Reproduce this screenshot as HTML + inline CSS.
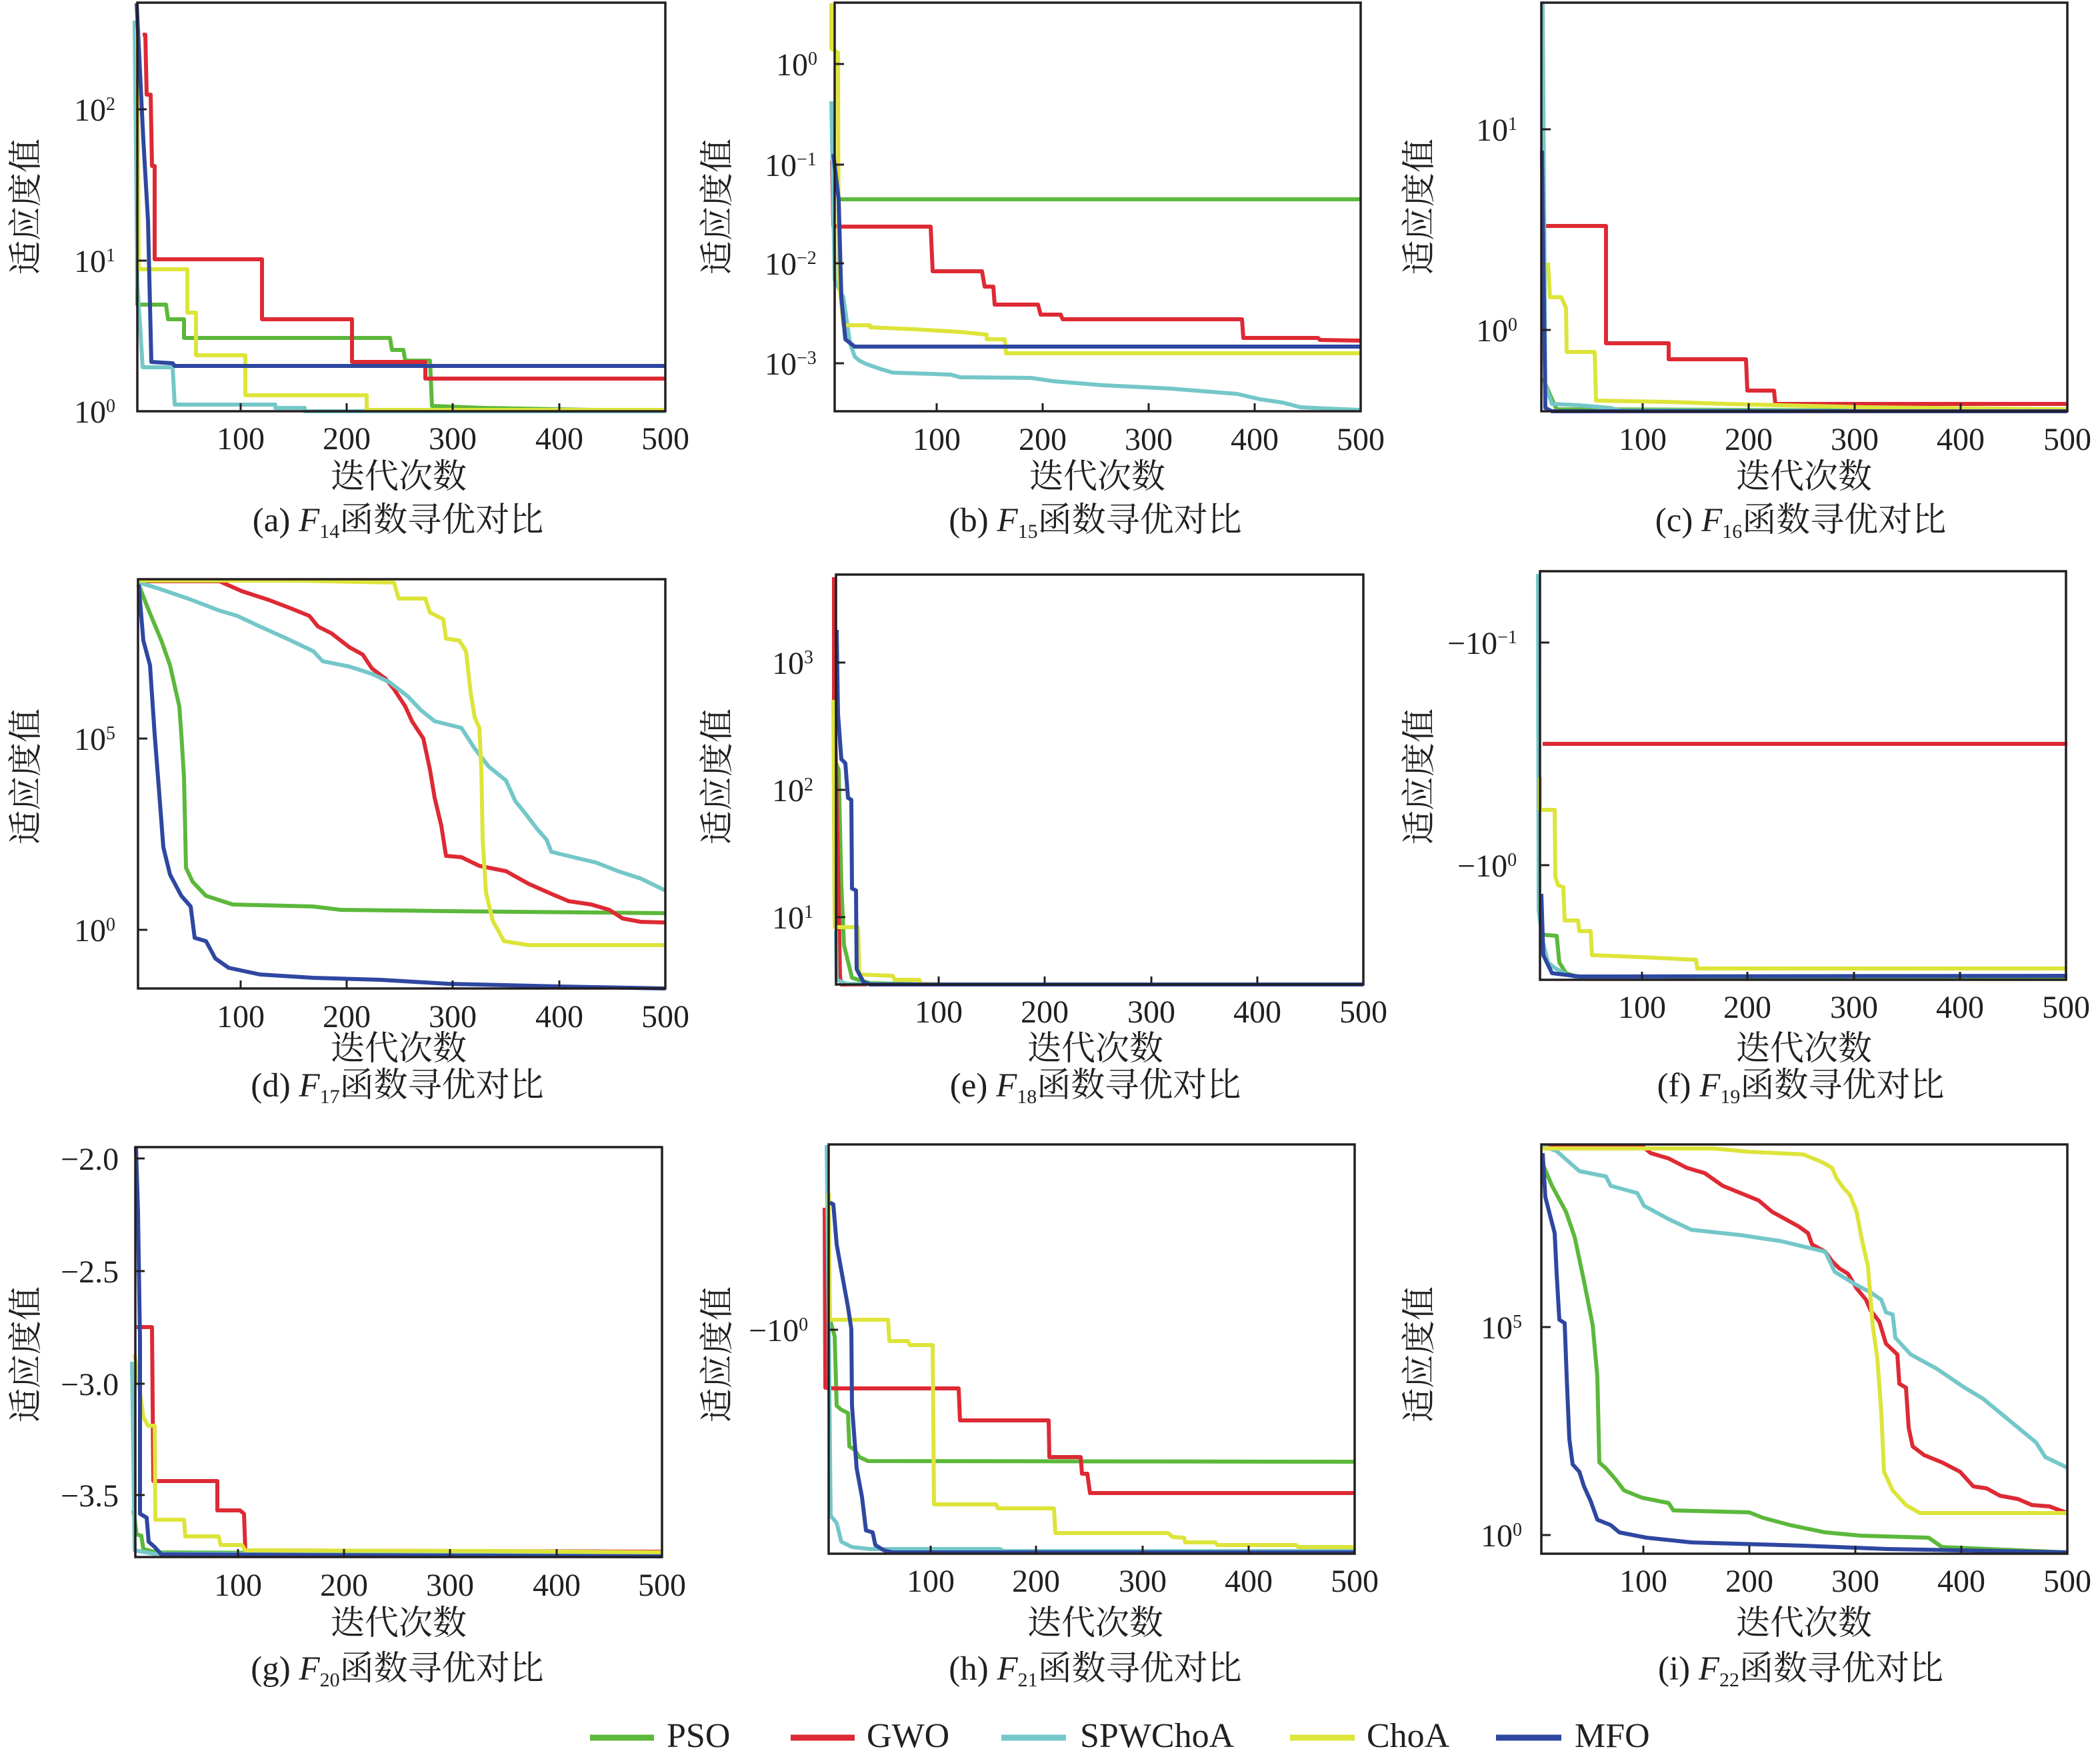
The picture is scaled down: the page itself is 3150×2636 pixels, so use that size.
<!DOCTYPE html>
<html><head><meta charset="utf-8"><style>
html,body{margin:0;padding:0;background:#fff}
svg{display:block}
.t{font-family:"Liberation Serif","Noto Serif CJK SC",serif;fill:#231f20}
.tk{font-size:48px}
.lab{font-size:51px}
.s{fill:none;stroke-width:6;stroke-linejoin:round;stroke-linecap:butt}
.g{stroke:#5cb83b}.r{stroke:#dd2a34}.c{stroke:#74c7c9}.y{stroke:#dde43a}.b{stroke:#2e47a0}
.box{fill:none;stroke:#231f20;stroke-width:3.5}
.tm{stroke:#231f20;stroke-width:3}
</style></head><body>
<svg width="3150" height="2636" viewBox="0 0 3150 2636" xmlns="http://www.w3.org/2000/svg">
<rect width="3150" height="2636" fill="#fff"/>

<!-- ============ (a) ============ -->
<g>
<path class="s g" d="M204,73 L206,457 L249,457 L252,479 L276,479 L276,507 L585,507 L588,525 L605,525 L608,541 L645,541 L648,609 L726,612 L998,617"/>
<path class="s r" d="M214,52 L218,52 L220,142 L226,142 L228,249 L232,249 L232,389 L393,389 L393,479 L528,479 L528,543 L638,543 L638,568 L998,568"/>
<path class="s c" d="M202,31 L206,425 L214,551 L259,551 L262,607 L413,607 L413,612 L457,612 L457,617 L998,617"/>
<path class="s y" d="M206,40 L208,404 L281,404 L281,469 L294,469 L294,533 L368,533 L368,593 L550,593 L550,615 L998,615"/>
<path class="s b" d="M205,5 L215,210 L222,331 L227,543 L259,545 L262,549 L998,549"/>
<rect class="box" x="206" y="4" width="792" height="613"/>
<path class="tm" d="M361,617v-12M520,617v-12M679,617v-12M839,617v-12M206,164h14M206,391h14"/>
<g class="t tk" text-anchor="middle"><text x="361" y="674">100</text><text x="520" y="674">200</text><text x="679" y="674">300</text><text x="839" y="674">400</text><text x="998" y="674">500</text></g>
<g class="t tk"><text x="111" y="181">10<tspan dy="-16" font-size="28">2</tspan></text><text x="111" y="408">10<tspan dy="-16" font-size="28">1</tspan></text><text x="111" y="634">10<tspan dy="-16" font-size="28">0</tspan></text></g>
<text class="t lab" x="598" y="732" text-anchor="middle">迭代次数</text>
<text class="t lab" text-anchor="middle" dominant-baseline="central" transform="translate(40,310) rotate(-90)">适应度值</text>
<text class="t lab" x="597" y="797" text-anchor="middle">(a) <tspan font-style="italic">F</tspan><tspan font-size="30" dy="10">14</tspan><tspan dy="-10">函数寻优对比</tspan></text>
</g>

<!-- ============ (b) ============ -->
<g>
<path class="s g" d="M1254,250 L1258,299 L2041,299"/>
<path class="s r" d="M1248,241 L1250,339 L1258,340 L1396,340 L1399,407 L1473,407 L1477,430 L1490,430 L1492,457 L1557,457 L1561,472 L1591,472 L1594,479 L1863,479 L1865,507 L1977,507 L1980,510 L2041,511"/>
<path class="s c" d="M1247,152 L1252,420 L1265,446 L1275,515 L1282,535 L1289,541 L1299,546 L1322,554 L1339,559 L1426,562 L1440,566 L1547,567 L1581,572 L1655,578 L1756,583 L1856,591 L1890,599 L1924,604 L1951,611 L1991,613 L2041,615"/>
<path class="s y" d="M1247,5 L1247,73 L1257,79 L1258,415 L1265,488 L1305,488 L1305,491 L1373,494 L1440,498 L1480,502 L1480,509 L1507,509 L1509,530 L2041,530"/>
<path class="s b" d="M1250,231 L1258,299 L1262,446 L1268,509 L1282,520 L2041,520"/>
<rect class="box" x="1252" y="4" width="789" height="613"/>
<path class="tm" d="M1405,617v-12M1564,617v-12M1723,617v-12M1882,617v-12M1252,96h14M1252,247h14M1252,395h14M1252,545h14"/>
<g class="t tk" text-anchor="middle"><text x="1405" y="675">100</text><text x="1564" y="675">200</text><text x="1723" y="675">300</text><text x="1882" y="675">400</text><text x="2041" y="675">500</text></g>
<g class="t tk"><text x="1164" y="113">10<tspan dy="-16" font-size="28">0</tspan></text><text x="1147" y="264">10<tspan dy="-16" font-size="28">−1</tspan></text><text x="1147" y="412">10<tspan dy="-16" font-size="28">−2</tspan></text><text x="1147" y="562">10<tspan dy="-16" font-size="28">−3</tspan></text></g>
<text class="t lab" x="1646" y="732" text-anchor="middle">迭代次数</text>
<text class="t lab" text-anchor="middle" dominant-baseline="central" transform="translate(1077,310) rotate(-90)">适应度值</text>
<text class="t lab" x="1643" y="797" text-anchor="middle">(b) <tspan font-style="italic">F</tspan><tspan font-size="30" dy="10">15</tspan><tspan dy="-10">函数寻优对比</tspan></text>
</g>

<!-- ============ (c) ============ -->
<g>
<path class="s g" d="M2314,567 L2328,599 L2335,614 L3101,617"/>
<path class="s r" d="M2315,336 L2315,339 L2409,339 L2409,515 L2503,515 L2503,539 L2619,539 L2621,586 L2661,586 L2663,606 L3101,606"/>
<path class="s c" d="M2314,3 L2318,578 L2328,606 L2369,608 L2416,612 L2430,616 L3101,617"/>
<path class="s y" d="M2322,394 L2325,446 L2342,446 L2349,462 L2350,528 L2392,528 L2394,601 L2503,603 L2591,606 L2799,611 L3101,614"/>
<path class="s b" d="M2313,226 L2318,612 L2328,617 L3101,617"/>
<rect class="box" x="2312" y="4" width="789" height="613"/>
<path class="tm" d="M2464,617v-12M2623,617v-12M2782,617v-12M2941,617v-12M2312,194h14M2312,495h14"/>
<g class="t tk" text-anchor="middle"><text x="2464" y="675">100</text><text x="2623" y="675">200</text><text x="2782" y="675">300</text><text x="2941" y="675">400</text><text x="3101" y="675">500</text></g>
<g class="t tk"><text x="2214" y="211">10<tspan dy="-16" font-size="28">1</tspan></text><text x="2214" y="512">10<tspan dy="-16" font-size="28">0</tspan></text></g>
<text class="t lab" x="2706" y="732" text-anchor="middle">迭代次数</text>
<text class="t lab" text-anchor="middle" dominant-baseline="central" transform="translate(2130,310) rotate(-90)">适应度值</text>
<text class="t lab" x="2701" y="797" text-anchor="middle">(c) <tspan font-style="italic">F</tspan><tspan font-size="30" dy="10">16</tspan><tspan dy="-10">函数寻优对比</tspan></text>
</g>

<!-- ============ (d) ============ -->
<g>
<path class="s g" d="M208,877 L222,913 L242,961 L255,998 L269,1060 L272,1102 L276,1166 L279,1302 L289,1323 L309,1344 L349,1357 L470,1360 L511,1365 L672,1367 L998,1370"/>
<path class="s r" d="M207,872 L329,872 L363,887 L403,900 L437,913 L464,924 L477,940 L497,950 L524,971 L544,982 L558,1003 L578,1018 L591,1034 L608,1060 L618,1082 L635,1108 L645,1155 L652,1197 L662,1239 L669,1284 L692,1286 L719,1299 L759,1307 L793,1326 L827,1341 L853,1352 L887,1357 L914,1365 L934,1378 L961,1383 L998,1384"/>
<path class="s c" d="M208,874 L235,882 L282,898 L329,916 L356,924 L390,940 L430,958 L470,977 L484,992 L524,1000 L558,1011 L585,1024 L612,1045 L632,1066 L652,1082 L692,1092 L712,1123 L733,1150 L759,1171 L773,1202 L786,1218 L806,1244 L820,1260 L827,1278 L860,1286 L894,1294 L927,1307 L961,1318 L998,1336"/>
<path class="s y" d="M207,871 L437,871 L591,874 L598,898 L638,898 L645,919 L665,929 L669,958 L689,961 L699,977 L706,1039 L712,1076 L719,1092 L722,1155 L724,1260 L729,1339 L739,1381 L756,1412 L793,1418 L998,1418"/>
<path class="s b" d="M208,877 L215,961 L225,998 L232,1102 L239,1192 L245,1271 L255,1312 L272,1344 L286,1360 L292,1407 L309,1412 L323,1438 L343,1452 L390,1462 L470,1467 L571,1470 L672,1476 L840,1480 L998,1483"/>
<rect class="box" x="207" y="869" width="791" height="614"/>
<path class="tm" d="M361,1483v-12M520,1483v-12M679,1483v-12M839,1483v-12M207,1108h14M207,1395h14"/>
<g class="t tk" text-anchor="middle"><text x="361" y="1541">100</text><text x="520" y="1541">200</text><text x="679" y="1541">300</text><text x="839" y="1541">400</text><text x="998" y="1541">500</text></g>
<g class="t tk"><text x="111" y="1125">10<tspan dy="-16" font-size="28">5</tspan></text><text x="111" y="1412">10<tspan dy="-16" font-size="28">0</tspan></text></g>
<text class="t lab" x="598" y="1590" text-anchor="middle">迭代次数</text>
<text class="t lab" text-anchor="middle" dominant-baseline="central" transform="translate(40,1165) rotate(-90)">适应度值</text>
<text class="t lab" x="596" y="1645" text-anchor="middle">(d) <tspan font-style="italic">F</tspan><tspan font-size="30" dy="10">17</tspan><tspan dy="-10">函数寻优对比</tspan></text>
</g>

<!-- ============ (e) ============ -->
<g>
<path class="s g" d="M1254,1145 L1258,1155 L1262,1328 L1266,1418 L1278,1467 L1305,1475 L1400,1477"/>
<path class="s r" d="M1251,866 L1251,1050 L1253,1100 L1258,1355 L1260,1465 L1262,1477 L1300,1477"/>
<path class="s c" d="M1254,1396 L1255,1470 L1270,1476 L1400,1477"/>
<path class="s y" d="M1250,1050 L1252,1391 L1287,1391 L1289,1462 L1339,1464 L1342,1470 L1379,1470 L1381,1476 L1420,1477"/>
<path class="s b" d="M1255,945 L1257,1071 L1262,1139 L1268,1145 L1272,1197 L1277,1200 L1278,1333 L1284,1336 L1285,1454 L1295,1473 L1305,1477 L2045,1477"/>
<rect class="box" x="1254" y="862" width="791" height="615"/>
<path class="tm" d="M1408,1477v-12M1567,1477v-12M1727,1477v-12M1886,1477v-12M1254,994h14M1254,1185h14M1254,1376h14"/>
<g class="t tk" text-anchor="middle"><text x="1408" y="1534">100</text><text x="1567" y="1534">200</text><text x="1727" y="1534">300</text><text x="1886" y="1534">400</text><text x="2045" y="1534">500</text></g>
<g class="t tk"><text x="1158" y="1011">10<tspan dy="-16" font-size="28">3</tspan></text><text x="1158" y="1202">10<tspan dy="-16" font-size="28">2</tspan></text><text x="1158" y="1393">10<tspan dy="-16" font-size="28">1</tspan></text></g>
<text class="t lab" x="1643" y="1590" text-anchor="middle">迭代次数</text>
<text class="t lab" text-anchor="middle" dominant-baseline="central" transform="translate(1077,1165) rotate(-90)">适应度值</text>
<text class="t lab" x="1643" y="1645" text-anchor="middle">(e) <tspan font-style="italic">F</tspan><tspan font-size="30" dy="10">18</tspan><tspan dy="-10">函数寻优对比</tspan></text>
</g>

<!-- ============ (f) ============ -->
<g>
<path class="s g" d="M2314,1402 L2322,1403 L2335,1404 L2339,1444 L2349,1460 L2370,1467 L3101,1467"/>
<path class="s r" d="M2314,1116 L3101,1116"/>
<path class="s c" d="M2307,861 L2308,1365 L2314,1412 L2322,1444 L2332,1452 L2349,1462 L2369,1467 L2500,1468"/>
<path class="s y" d="M2310,1166 L2310,1215 L2332,1215 L2333,1315 L2337,1328 L2345,1331 L2347,1381 L2367,1381 L2369,1397 L2386,1397 L2388,1433 L2463,1436 L2544,1440 L2546,1453 L3101,1453"/>
<path class="s b" d="M2312,1341 L2315,1433 L2328,1460 L2369,1465 L3101,1464"/>
<rect class="box" x="2310" y="857" width="789" height="613"/>
<path class="tm" d="M2463,1470v-12M2621,1470v-12M2781,1470v-12M2940,1470v-12M2310,964h14M2310,1298h14"/>
<g class="t tk" text-anchor="middle"><text x="2463" y="1527">100</text><text x="2621" y="1527">200</text><text x="2781" y="1527">300</text><text x="2940" y="1527">400</text><text x="3099" y="1527">500</text></g>
<g class="t tk"><text x="2171" y="981">−10<tspan dy="-16" font-size="28">−1</tspan></text><text x="2186" y="1315">−10<tspan dy="-16" font-size="28">0</tspan></text></g>
<text class="t lab" x="2706" y="1590" text-anchor="middle">迭代次数</text>
<text class="t lab" text-anchor="middle" dominant-baseline="central" transform="translate(2130,1165) rotate(-90)">适应度值</text>
<text class="t lab" x="2701" y="1645" text-anchor="middle">(f) <tspan font-style="italic">F</tspan><tspan font-size="30" dy="10">19</tspan><tspan dy="-10">函数寻优对比</tspan></text>
</g>

<!-- ============ (g) ============ -->
<g>
<path class="s g" d="M200,2266 L205,2302 L212,2304 L215,2324 L235,2329 L993,2332"/>
<path class="s r" d="M205,1991 L228,1991 L230,2222 L326,2222 L326,2266 L360,2266 L366,2271 L368,2326 L993,2328"/>
<path class="s c" d="M198,2043 L202,2326 L230,2331 L993,2331"/>
<path class="s y" d="M202,2032 L215,2126 L222,2139 L232,2139 L233,2280 L276,2280 L278,2305 L328,2305 L331,2318 L363,2318 L368,2326 L726,2327 L993,2329"/>
<path class="s b" d="M204,1721 L207,1818 L210,2010 L210,2271 L215,2274 L220,2277 L223,2313 L232,2321 L242,2332 L993,2335"/>
<rect class="box" x="203" y="1721" width="790" height="615"/>
<path class="tm" d="M357,2336v-12M516,2336v-12M675,2336v-12M835,2336v-12M203,1738h14M203,1907h14M203,2076h14M203,2243h14"/>
<g class="t tk" text-anchor="middle"><text x="357" y="2394">100</text><text x="516" y="2394">200</text><text x="675" y="2394">300</text><text x="835" y="2394">400</text><text x="993" y="2394">500</text></g>
<g class="t tk"><text x="91" y="1755">−2.0</text><text x="91" y="1924">−2.5</text><text x="91" y="2093">−3.0</text><text x="91" y="2260">−3.5</text></g>
<text class="t lab" x="598" y="2452" text-anchor="middle">迭代次数</text>
<text class="t lab" text-anchor="middle" dominant-baseline="central" transform="translate(40,2032) rotate(-90)">适应度值</text>
<text class="t lab" x="596" y="2520" text-anchor="middle">(g) <tspan font-style="italic">F</tspan><tspan font-size="30" dy="10">20</tspan><tspan dy="-10">函数寻优对比</tspan></text>
</g>

<!-- ============ (h) ============ -->
<g>
<path class="s g" d="M1245,1980 L1252,2005 L1255,2109 L1262,2115 L1272,2120 L1274,2170 L1282,2175 L1289,2186 L1302,2192 L2032,2193"/>
<path class="s r" d="M1237,1812 L1238,2082 L1252,2083 L1438,2083 L1440,2131 L1573,2131 L1574,2186 L1621,2186 L1623,2211 L1631,2211 L1635,2240 L2032,2240"/>
<path class="s c" d="M1240,1718 L1243,1982 L1246,2274 L1255,2285 L1262,2313 L1278,2321 L1305,2324 L1500,2324 L1505,2327 L2032,2327"/>
<path class="s y" d="M1243,1790 L1245,1980 L1332,1980 L1334,2012 L1362,2012 L1365,2018 L1399,2018 L1401,2257 L1494,2257 L1497,2263 L1581,2263 L1583,2300 L1752,2300 L1759,2306 L1776,2307 L1778,2314 L1823,2314 L1826,2318 L1944,2318 L1947,2321 L2032,2321"/>
<path class="s b" d="M1245,1804 L1250,1807 L1255,1867 L1264,1917 L1272,1961 L1277,1994 L1278,2109 L1285,2203 L1293,2246 L1299,2296 L1309,2299 L1313,2318 L1326,2326 L1339,2329 L2032,2329"/>
<rect class="box" x="1243" y="1717" width="789" height="614"/>
<path class="tm" d="M1396,2331v-12M1554,2331v-12M1714,2331v-12M1873,2331v-12M1243,1995h14"/>
<g class="t tk" text-anchor="middle"><text x="1396" y="2388">100</text><text x="1554" y="2388">200</text><text x="1714" y="2388">300</text><text x="1873" y="2388">400</text><text x="2032" y="2388">500</text></g>
<g class="t tk"><text x="1123" y="2012">−10<tspan dy="-16" font-size="28">0</tspan></text></g>
<text class="t lab" x="1643" y="2452" text-anchor="middle">迭代次数</text>
<text class="t lab" text-anchor="middle" dominant-baseline="central" transform="translate(1077,2032) rotate(-90)">适应度值</text>
<text class="t lab" x="1643" y="2520" text-anchor="middle">(h) <tspan font-style="italic">F</tspan><tspan font-size="30" dy="10">21</tspan><tspan dy="-10">函数寻优对比</tspan></text>
</g>

<!-- ============ (i) ============ -->
<g>
<path class="s g" d="M2314,1746 L2328,1779 L2349,1818 L2362,1856 L2376,1922 L2389,1988 L2396,2065 L2399,2194 L2409,2203 L2423,2219 L2436,2236 L2463,2247 L2503,2255 L2510,2266 L2624,2269 L2644,2277 L2685,2288 L2738,2299 L2792,2304 L2893,2307 L2913,2321 L3007,2325 L3101,2329"/>
<path class="s r" d="M2314,1719 L2463,1719 L2476,1730 L2503,1738 L2530,1752 L2557,1760 L2584,1779 L2611,1790 L2638,1801 L2658,1818 L2678,1829 L2698,1840 L2712,1850 L2718,1867 L2738,1878 L2748,1892 L2759,1903 L2772,1911 L2785,1933 L2799,1950 L2806,1966 L2819,1983 L2829,2016 L2846,2032 L2849,2076 L2859,2082 L2863,2142 L2869,2170 L2886,2183 L2913,2194 L2940,2208 L2960,2230 L2980,2233 L3000,2244 L3027,2249 L3048,2258 L3074,2260 L3101,2270"/>
<path class="s c" d="M2314,1719 L2335,1727 L2369,1757 L2409,1765 L2416,1779 L2456,1790 L2466,1809 L2503,1829 L2537,1845 L2611,1853 L2671,1862 L2738,1878 L2752,1908 L2785,1928 L2806,1939 L2822,1950 L2829,1969 L2839,1972 L2843,2007 L2866,2032 L2906,2054 L2947,2082 L2974,2098 L3014,2131 L3054,2164 L3068,2186 L3101,2202"/>
<path class="s y" d="M2314,1723 L2570,1723 L2624,1728 L2705,1732 L2732,1743 L2748,1752 L2755,1768 L2765,1782 L2775,1793 L2785,1818 L2792,1856 L2802,1900 L2809,1988 L2816,2038 L2822,2120 L2826,2208 L2839,2236 L2859,2258 L2880,2270 L3101,2270"/>
<path class="s b" d="M2314,1730 L2318,1796 L2332,1850 L2335,1911 L2339,1980 L2347,1985 L2350,2065 L2354,2159 L2359,2197 L2369,2208 L2376,2230 L2386,2252 L2396,2280 L2416,2288 L2429,2299 L2470,2307 L2537,2314 L2705,2319 L2832,2324 L3101,2329"/>
<rect class="box" x="2312" y="1717" width="789" height="614"/>
<path class="tm" d="M2465,2331v-12M2624,2331v-12M2783,2331v-12M2942,2331v-12M2312,1991h14M2312,2303h14"/>
<g class="t tk" text-anchor="middle"><text x="2465" y="2388">100</text><text x="2624" y="2388">200</text><text x="2783" y="2388">300</text><text x="2942" y="2388">400</text><text x="3101" y="2388">500</text></g>
<g class="t tk"><text x="2221" y="2008">10<tspan dy="-16" font-size="28">5</tspan></text><text x="2221" y="2320">10<tspan dy="-16" font-size="28">0</tspan></text></g>
<text class="t lab" x="2706" y="2452" text-anchor="middle">迭代次数</text>
<text class="t lab" text-anchor="middle" dominant-baseline="central" transform="translate(2130,2032) rotate(-90)">适应度值</text>
<text class="t lab" x="2701" y="2520" text-anchor="middle">(i) <tspan font-style="italic">F</tspan><tspan font-size="30" dy="10">22</tspan><tspan dy="-10">函数寻优对比</tspan></text>
</g>

<!-- ============ Legend ============ -->
<g>
<line x1="885" y1="2607" x2="981" y2="2607" stroke="#5cb83b" stroke-width="9"/>
<line x1="1186" y1="2607" x2="1282" y2="2607" stroke="#dd2a34" stroke-width="9"/>
<line x1="1502" y1="2607" x2="1599" y2="2607" stroke="#74c7c9" stroke-width="9"/>
<line x1="1935" y1="2607" x2="2032" y2="2607" stroke="#dde43a" stroke-width="9"/>
<line x1="2244" y1="2607" x2="2342" y2="2607" stroke="#2e47a0" stroke-width="9"/>
<g class="t" font-size="52">
<text x="1000" y="2621">PSO</text>
<text x="1300" y="2621">GWO</text>
<text x="1620" y="2621">SPWChoA</text>
<text x="2050" y="2621">ChoA</text>
<text x="2362" y="2621">MFO</text>
</g>
</g>
</svg>
</body></html>
